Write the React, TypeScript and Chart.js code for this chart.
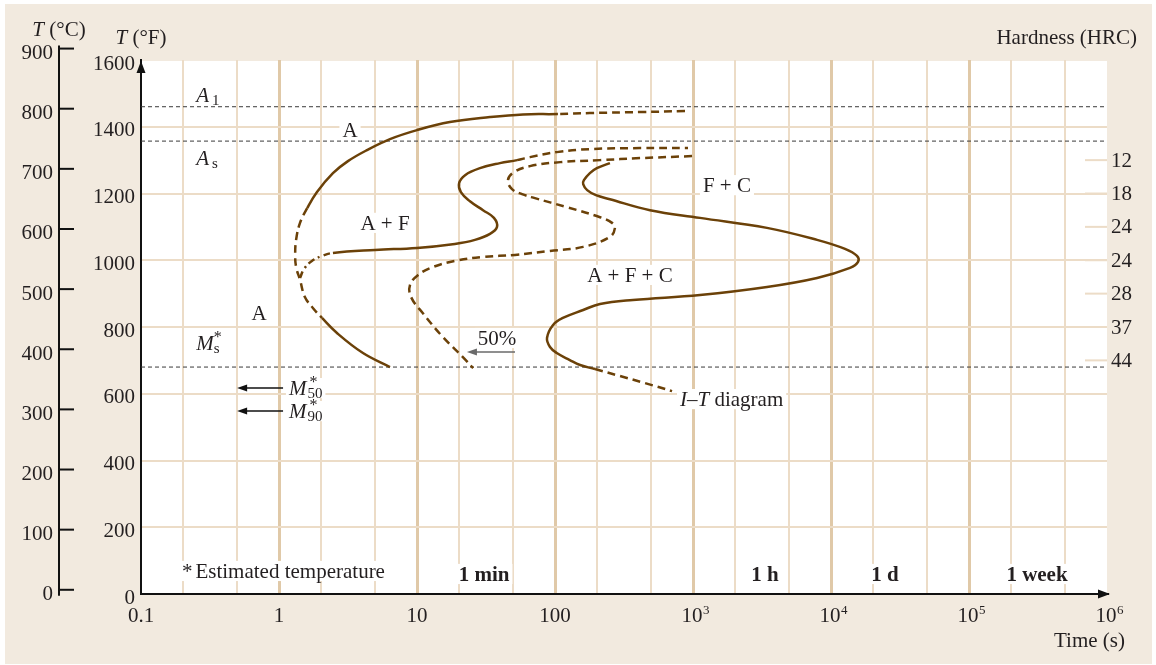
import React, { useEffect, useRef } from 'react';
import { Chart, registerables } from 'chart.js';

Chart.register(...registerables);

// ---------- axes ----------
const timeTickValues = [0.1, 1, 10, 100, 1e3, 1e4, 1e5, 1e6];
const timeTickBase = ['0.1', '1', '10', '100', '10', '10', '10', '10'];
const timeTickExp = ['', '', '', '', '3', '4', '5', '6'];
const timeGridValues = [
  0.1, 0.2, 0.5, 1, 2, 5, 10, 20, 50, 100, 200, 500, 1e3, 2e3, 5e3, 1e4, 2e4, 5e4, 1e5, 2e5, 5e5, 1e6,
];
const tempFTicks = [0, 200, 400, 600, 800, 1000, 1200, 1400, 1600];
const tempCTicks = [0, 100, 200, 300, 400, 500, 600, 700, 800, 900];
const celsiusRange = [-7, 881];
const hardnessTempsF = [1300, 1200, 1100, 1000, 900, 800, 700];
const hardnessHRC = [12, 18, 24, 24, 28, 37, 44];

// ---------- critical temperatures (°F) ----------
const criticalTempsF = [1460, 1357, 680]; // A1, As, Ms

// ---------- transformation curves (time s, temperature °F) ----------
// segment styles: s = solid, d = dashed, x = dash-dot
const startTimes = [875, 413, 179, 105, 58.6, 33.8, 17.3, 10, 6.37, 4.34, 3.16, 2.46, 1.88, 1.6, 1.42, 1.33, 1.31, 1.33, 1.42, 1.54, 1.76, 2.05, 2.63, 4.06, 6.37];
const startTemps = [1447, 1444, 1441, 1438, 1437, 1429, 1414, 1390, 1363, 1330, 1297, 1261, 1204, 1156, 1112, 1061, 1016, 980, 941, 890, 857, 827, 782, 722, 680];
const startStyles = 'dddssssssssssddddddddssss';

const ferriteTimes = [1.42, 1.52, 1.73, 2.05, 2.46, 4.96, 10, 18.8, 26.3, 33.8, 38.0, 36.1, 30.1, 24.2, 20.8, 20.2, 22.3, 28.6, 39.9, 53.1, 65.9, 103, 179, 413, 920];
const ferriteTemps = [947, 974, 998, 1013, 1022, 1031, 1037, 1049, 1061, 1079, 1100, 1127, 1150, 1177, 1204, 1231, 1255, 1276, 1291, 1300, 1309, 1324, 1333, 1336, 1336];
const ferriteStyles = 'xxxxsssssssssssssssddddd';

const halfTimes = [984, 413, 212, 109, 65.9, 50.5, 45.6, 48.8, 57.7, 71.6, 122, 212, 259, 272, 250, 160, 92.0, 51.3, 30.1, 18.8, 13.1, 10.2, 8.9, 9.05, 11.0, 15.4, 21.5, 25.5];
const halfTemps = [1312, 1306, 1300, 1294, 1282, 1264, 1240, 1213, 1198, 1186, 1159, 1129, 1112, 1097, 1070, 1040, 1028, 1016, 1010, 998, 980, 956, 926, 890, 842, 770, 710, 677];
const halfStyles = 'ddddddddddddddddddddddddddd';

const finishTimes = [250, 201, 179, 162, 160, 171, 198, 250, 488, 1124, 3436, 7925, 12630, 15430, 15700, 13740, 7925, 3436, 1124, 367, 212, 160, 114, 96.8, 87.5, 92.0, 103, 128, 152, 195, 296, 449, 705];
const finishTemps = [1291, 1276, 1261, 1240, 1228, 1210, 1195, 1183, 1150, 1127, 1097, 1061, 1034, 1013, 995, 977, 947, 920, 896, 881, 869, 851, 827, 806, 767, 740, 722, 701, 686, 674, 653, 632, 608];
const finishStyles = 'sssssssssssssssssssssssssssssddd';

// ---------- labels ----------
const regionLabels = ['A', 'A + F', 'A', 'F + C', 'A + F + C'];
const regionTimes = [3.27, 5.86, 0.716, 1762, 349];
const regionTemps = [1390, 1112, 842, 1225, 956];

const durationLabels = ['1 min', '1 h', '1 d', '1 week'];
const durationTimes = [30.6, 3327, 24600, 311000];
const durationTemp = 60;

const martensiteTemps = [617, 548]; // M50, M90 arrows
const martensiteSubs = ['50', '90'];

const SERIF = '"Liberation Serif", "Times New Roman", serif';
const INK = '#231f20';
const BROWN = '#6b4108';
const BEIGE = '#f2eadf';
const GRID = '#ecdcc7';
const GRID_MAJOR = '#e0c9a8';
const FS = 21;

type Run = { t: string; it?: boolean; b?: boolean; sub?: boolean; sup?: boolean; dx?: number; noAdv?: boolean; size?: number };

function fontOf(r: Run, size: number) {
  const s = r.size ?? (r.sub || r.sup ? Math.round(size * 0.68) : size);
  return `${r.it ? 'italic ' : ''}${r.b ? 'bold ' : ''}${s}px ${SERIF}`;
}

function runsWidth(ctx: CanvasRenderingContext2D, runs: Run[], size: number) {
  let w = 0;
  for (const r of runs) {
    ctx.font = fontOf(r, size);
    w += r.dx || 0;
    if (!r.noAdv) w += ctx.measureText(r.t).width;
  }
  return w;
}

function drawRuns(
  ctx: CanvasRenderingContext2D,
  runs: Run[],
  x: number,
  midY: number,
  align: 'left' | 'center' | 'right',
  bg = false,
  size = FS,
) {
  const w = runsWidth(ctx, runs, size);
  let cx = align === 'center' ? x - w / 2 : align === 'right' ? x - w : x;
  const base = midY + size * 0.33;
  if (bg) {
    ctx.fillStyle = '#ffffff';
    ctx.fillRect(cx - 3, midY - size * 0.48, w + 6, size * 0.96);
  }
  ctx.fillStyle = INK;
  ctx.textAlign = 'left';
  ctx.textBaseline = 'alphabetic';
  for (const r of runs) {
    ctx.font = fontOf(r, size);
    cx += r.dx || 0;
    const dy = r.sub ? size * 0.15 : r.sup ? -size * 0.38 : 0;
    ctx.fillText(r.t, cx, base + dy);
    if (!r.noAdv) cx += ctx.measureText(r.t).width;
  }
}

function arrow(ctx: CanvasRenderingContext2D, x1: number, y: number, x2: number, color: string) {
  ctx.strokeStyle = color;
  ctx.fillStyle = color;
  ctx.lineWidth = 1.5;
  ctx.beginPath();
  ctx.moveTo(x1, y);
  ctx.lineTo(x2 + 8, y);
  ctx.stroke();
  ctx.beginPath();
  ctx.moveTo(x2, y);
  ctx.lineTo(x2 + 10, y - 3.5);
  ctx.lineTo(x2 + 10, y + 3.5);
  ctx.closePath();
  ctx.fill();
}

const dashFor = (c: string) => (c === 'd' ? [8, 5] : c === 'x' ? [7, 4, 2, 4] : []);

function curve(times: number[], temps: number[], styles: string) {
  return {
    data: times.map((t, i) => ({ x: t, y: temps[i] })),
    borderColor: BROWN,
    borderWidth: 2.5,
    pointRadius: 0,
    tension: 0.4,
    fill: false,
    xAxisID: 'x',
    yAxisID: 'yF',
    segment: { borderDash: (ctx: any) => dashFor(styles[ctx.p0DataIndex]) },
  };
}

function refLine(tempF: number) {
  return {
    data: [
      { x: timeGridValues[0], y: tempF },
      { x: timeGridValues[timeGridValues.length - 1], y: tempF },
    ],
    borderColor: '#3a3a3a',
    borderWidth: 1,
    borderDash: [4, 3],
    pointRadius: 0,
    tension: 0,
    fill: false,
    xAxisID: 'x',
    yAxisID: 'yF',
  };
}

const decorations = {
  id: 'decorations',
  beforeDraw(chart: any) {
    const { ctx, chartArea: a } = chart;
    ctx.save();
    ctx.fillStyle = '#ffffff';
    ctx.fillRect(0, 0, chart.width, chart.height);
    ctx.fillStyle = BEIGE;
    ctx.fillRect(5, 4, chart.width - 9, chart.height - 5);
    ctx.fillStyle = '#ffffff';
    ctx.fillRect(a.left, a.top + 1, a.right - a.left, a.bottom - a.top - 1);
    ctx.restore();
  },
  beforeDatasetsDraw(chart: any) {
    const { ctx, chartArea: a, scales } = chart;
    const xs = scales.x;
    const yF = scales.yF;
    const px = (t: number) => xs.getPixelForValue(t);
    const py = (f: number) => yF.getPixelForValue(f);
    ctx.save();

    // hardness ticks inside the plot
    ctx.strokeStyle = GRID;
    ctx.lineWidth = 2;
    hardnessTempsF.forEach((f) => {
      const y = scales.yH.getPixelForValue(f);
      ctx.beginPath();
      ctx.moveTo(a.right - 22, y);
      ctx.lineTo(a.right, y);
      ctx.stroke();
    });

    // critical temperature names
    const leftT = 0.251;
    drawRuns(ctx, [{ t: 'A', it: true }, { t: '1', sub: true, size: 15, dx: 3 }], px(leftT), py(1495), 'left');
    drawRuns(ctx, [{ t: 'A', it: true }, { t: 's', sub: true, size: 15, dx: 3 }], px(leftT), py(1306), 'left');
    drawRuns(ctx, [{ t: 'M', it: true }, { t: '*', sup: true, size: 16, noAdv: true, dx: 0 }, { t: 's', sub: true, size: 15, dx: 0 }], px(leftT), py(752), 'left');

    // phase regions
    regionLabels.forEach((s, i) => drawRuns(ctx, [{ t: s }], px(regionTimes[i]), py(regionTemps[i]), 'center', true));

    // martensite arrows
    martensiteTemps.forEach((f, i) => {
      const y = py(f);
      arrow(ctx, px(1.07), y, px(0.497), '#111111');
      drawRuns(
        ctx,
        [{ t: 'M', it: true }, { t: '*', sup: true, size: 16, noAdv: true, dx: 3 }, { t: martensiteSubs[i], sub: true, size: 15, dx: -2 }],
        px(1.18),
        y,
        'left',
        true,
      );
    });

    // 50 % marker
    drawRuns(ctx, [{ t: '50%' }], px(38.0), py(767), 'center', true);
    arrow(ctx, px(51.3), py(725), px(23.0), '#6a6a6a');

    // I-T diagram caption
    drawRuns(ctx, [{ t: 'I', it: true }, { t: '\u2013' }, { t: 'T', it: true }, { t: ' diagram' }], px(805), py(584), 'left', true);

    // footnote and duration marks
    drawRuns(ctx, [{ t: '*' }, { t: 'Estimated temperature', dx: 3 }], px(0.198), py(69), 'left', true);
    durationLabels.forEach((s, i) => drawRuns(ctx, [{ t: s, b: true }], px(durationTimes[i]), py(durationTemp), 'center', true));

    ctx.restore();
  },
  afterDraw(chart: any) {
    const { ctx, chartArea: a, scales } = chart;
    const xs = scales.x;
    const yC = scales.yC;
    ctx.save();

    // Celsius axis line with inward ticks
    const cx = yC.right;
    ctx.strokeStyle = '#111111';
    ctx.lineWidth = 2;
    ctx.beginPath();
    ctx.moveTo(cx, yC.getPixelForValue(905));
    ctx.lineTo(cx, yC.getPixelForValue(-10));
    ctx.stroke();
    tempCTicks.forEach((c) => {
      const y = yC.getPixelForValue(c);
      ctx.beginPath();
      ctx.moveTo(cx, y);
      ctx.lineTo(cx + 15, y);
      ctx.stroke();
    });

    // axis arrowheads
    ctx.fillStyle = '#111111';
    ctx.beginPath();
    ctx.moveTo(a.left, a.top + 1);
    ctx.lineTo(a.left - 4.5, a.top + 13);
    ctx.lineTo(a.left + 4.5, a.top + 13);
    ctx.closePath();
    ctx.fill();
    ctx.beginPath();
    ctx.moveTo(a.right + 3, a.bottom);
    ctx.lineTo(a.right - 9, a.bottom - 4.5);
    ctx.lineTo(a.right - 9, a.bottom + 4.5);
    ctx.closePath();
    ctx.fill();

    // time tick labels
    timeTickValues.forEach((v, i) => {
      const x = xs.getPixelForValue(v);
      ctx.font = `${FS}px ${SERIF}`;
      const bw = ctx.measureText(timeTickBase[i]).width;
      ctx.fillStyle = INK;
      ctx.textAlign = 'left';
      ctx.textBaseline = 'alphabetic';
      const left = timeTickExp[i] ? x - bw / 2 - 1 : x - bw / 2;
      ctx.fillText(timeTickBase[i], left, a.bottom + 28);
      if (timeTickExp[i]) {
        ctx.font = `13px ${SERIF}`;
        ctx.fillText(timeTickExp[i], left + bw + 0.5, a.bottom + 20);
      }
    });

    // axis titles
    drawRuns(ctx, [{ t: 'Time (s)' }], a.right + 18, a.bottom + 46, 'right');
    drawRuns(ctx, [{ t: 'T', it: true }, { t: ' (\u00b0C)' }], cx, 29, 'center');
    drawRuns(ctx, [{ t: 'T', it: true }, { t: ' (\u00b0F)' }], a.left, 37, 'center');
    drawRuns(ctx, [{ t: 'Hardness (HRC)' }], a.right + 30, 37, 'right');

    ctx.restore();
  },
};

export default function App() {
  const canvasRef = useRef<HTMLCanvasElement | null>(null);

  useEffect(() => {
    const canvas = canvasRef.current;
    if (!canvas) return;
    Chart.defaults.font.family = SERIF;
    Chart.defaults.font.size = FS;
    Chart.defaults.color = INK;

    const plain = (v: any) => String(v);

    const chart = new Chart(canvas, {
      type: 'line',
      data: {
        datasets: [
          curve(startTimes, startTemps, startStyles),
          curve(ferriteTimes, ferriteTemps, ferriteStyles),
          curve(halfTimes, halfTemps, halfStyles),
          curve(finishTimes, finishTemps, finishStyles),
          ...criticalTempsF.map(refLine),
        ] as any,
      },
      options: {
        responsive: false,
        animation: false,
        events: [],
        layout: { padding: { top: 60, left: 0, right: 0, bottom: 0 } },
        plugins: { legend: { display: false }, tooltip: { enabled: false } },
        scales: {
          x: {
            type: 'logarithmic',
            position: 'bottom',
            min: 0.1,
            max: 1e6,
            afterBuildTicks: (s: any) => {
              s.ticks = timeGridValues.map((v) => ({ value: v }));
            },
            afterFit: (s: any) => {
              s.height = 71;
            },
            ticks: { display: false },
            grid: {
              drawTicks: false,
              color: (c: any) => {
                const v = c.tick ? c.tick.value : 0;
                if (v <= 0.1 || v >= 1e6) return 'rgba(0,0,0,0)';
                const m = Math.log10(v);
                return Math.abs(m - Math.round(m)) < 1e-6 ? GRID_MAJOR : GRID;
              },
              lineWidth: (c: any) => {
                const v = c.tick ? c.tick.value : 1;
                const m = Math.log10(v);
                return Math.abs(m - Math.round(m)) < 1e-6 ? 3 : 2;
              },
            },
            border: { display: true, color: '#111111', width: 2 },
          },
          yF: {
            type: 'linear',
            position: 'left',
            weight: 1,
            min: tempFTicks[0],
            max: tempFTicks[tempFTicks.length - 1],
            afterBuildTicks: (s: any) => {
              s.ticks = tempFTicks.map((v) => ({ value: v }));
            },
            afterFit: (s: any) => {
              s.width = 82;
            },
            ticks: { padding: 6, labelOffset: 4, autoSkip: false, font: { family: SERIF, size: FS }, callback: plain },
            grid: {
              drawTicks: false,
              lineWidth: 2,
              color: (c: any) => {
                const v = c.tick ? c.tick.value : 0;
                return v <= 0 || v >= 1600 ? 'rgba(0,0,0,0)' : GRID;
              },
            },
            border: { display: true, color: '#111111', width: 2 },
          },
          yC: {
            type: 'linear',
            position: 'left',
            weight: 2,
            min: celsiusRange[0],
            max: celsiusRange[1],
            afterBuildTicks: (s: any) => {
              s.ticks = tempCTicks.map((v) => ({ value: v }));
            },
            afterFit: (s: any) => {
              s.width = 59;
            },
            ticks: { padding: 6, labelOffset: 5, autoSkip: false, font: { family: SERIF, size: FS }, callback: plain },
            grid: { display: false, drawTicks: false },
            border: { display: false },
          },
          yH: {
            type: 'linear',
            position: 'right',
            min: tempFTicks[0],
            max: tempFTicks[tempFTicks.length - 1],
            afterBuildTicks: (s: any) => {
              s.ticks = hardnessTempsF.map((v) => ({ value: v }));
            },
            afterFit: (s: any) => {
              s.width = 49;
            },
            ticks: {
              padding: 4,
              labelOffset: 1,
              autoSkip: false,
              font: { family: SERIF, size: FS },
              callback: (_v: any, i: number) => String(hardnessHRC[i]),
            },
            grid: { display: false, drawTicks: false },
            border: { display: false },
          },
        },
      } as any,
      plugins: [decorations],
    });
    return () => chart.destroy();
  }, []);

  return (
    <div style={{ position: 'absolute', left: 0, top: 0, width: 1156, height: 665 }}>
      <canvas ref={canvasRef} width={1156} height={665} style={{ display: 'block' }} />
    </div>
  );
}
